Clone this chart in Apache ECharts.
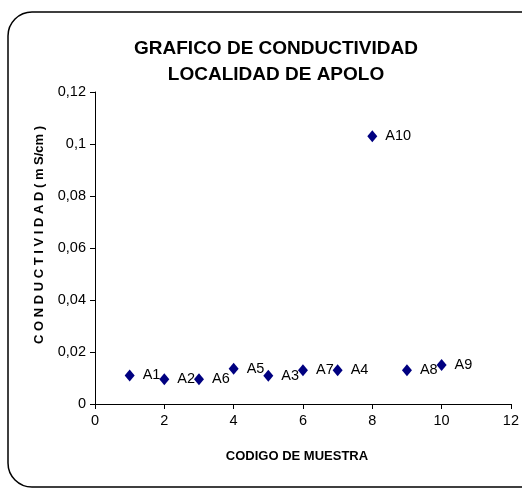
<!DOCTYPE html>
<html>
<head>
<meta charset="utf-8">
<script src="https://cdn.jsdelivr.net/npm/echarts@6/dist/echarts.min.js"></script>
<style>html,body{margin:0;padding:0;background:#fff}#c{width:522px;height:491px}</style>
</head>
<body>
<div id="c"></div>
<script>
const names = ['A1','A2','A6','A5','A3','A7','A4','A10','A8','A9'];
const xs = [1,2,3,4,5,6,7,8,9,10];
const ys = [0.011,0.0095,0.0095,0.0136,0.0109,0.013,0.013,0.103,0.013,0.015];
const titleLines = ['GRAFICO DE CONDUCTIVIDAD','LOCALIDAD DE APOLO'];
const xName = 'CODIGO DE MUESTRA';
const yName = 'C O N D U C T I V I D A D ( m S/cm )';

const chart = echarts.init(document.getElementById('c'));
const data = xs.map((x,i)=>({value:[x,ys[i]],name:names[i]}));
const font = 'Arial, "Liberation Sans", sans-serif';
chart.setOption({
  animation:false,
  graphic:[
    {type:'rect',shape:{x:8,y:12,width:540,height:475,r:24},style:{fill:'none',stroke:'#000',lineWidth:1.5},z:-1},
    {type:'text',x:39,y:235,rotation:Math.PI/2,
      style:{text:yName,fontFamily:font,fontWeight:'bold',fontSize:13,fill:'#000',align:'center',verticalAlign:'middle'}}
  ],
  title:{text:titleLines.join('\n'),left:271,top:31,textAlign:'center',
    textStyle:{fontFamily:font,fontWeight:'bold',fontSize:19,color:'#000',lineHeight:26}},
  grid:{left:95,right:5,top:92,bottom:87},
  xAxis:{type:'value',min:0,max:12,interval:2,name:xName,nameLocation:'middle',nameGap:46,
    nameTextStyle:{fontFamily:font,fontWeight:'bold',fontSize:13,color:'#000',padding:[0,12,0,0]},
    axisLine:{onZero:false,lineStyle:{color:'#000',width:1}},axisTick:{show:true,length:5,lineStyle:{color:'#000'}},
    axisLabel:{fontFamily:font,fontSize:14.5,color:'#000',margin:9},splitLine:{show:false}},
  yAxis:{type:'value',min:0,max:0.12,interval:0.02,
    axisLine:{show:true,lineStyle:{color:'#000',width:1}},axisTick:{show:true,length:5,lineStyle:{color:'#000'}},
    axisLabel:{fontFamily:font,fontSize:14.5,color:'#000',margin:9,
      formatter:v=>String(+v.toFixed(2)).replace('.',',')},splitLine:{show:false}},
  series:[{type:'scatter',data:data,symbol:'diamond',symbolSize:[10,12],
    itemStyle:{color:'#000080',opacity:1},
    label:{show:true,position:'right',distance:8,formatter:'{b}',fontFamily:font,fontSize:14.5,color:'#000'}}]
});
</script>
</body>
</html>
